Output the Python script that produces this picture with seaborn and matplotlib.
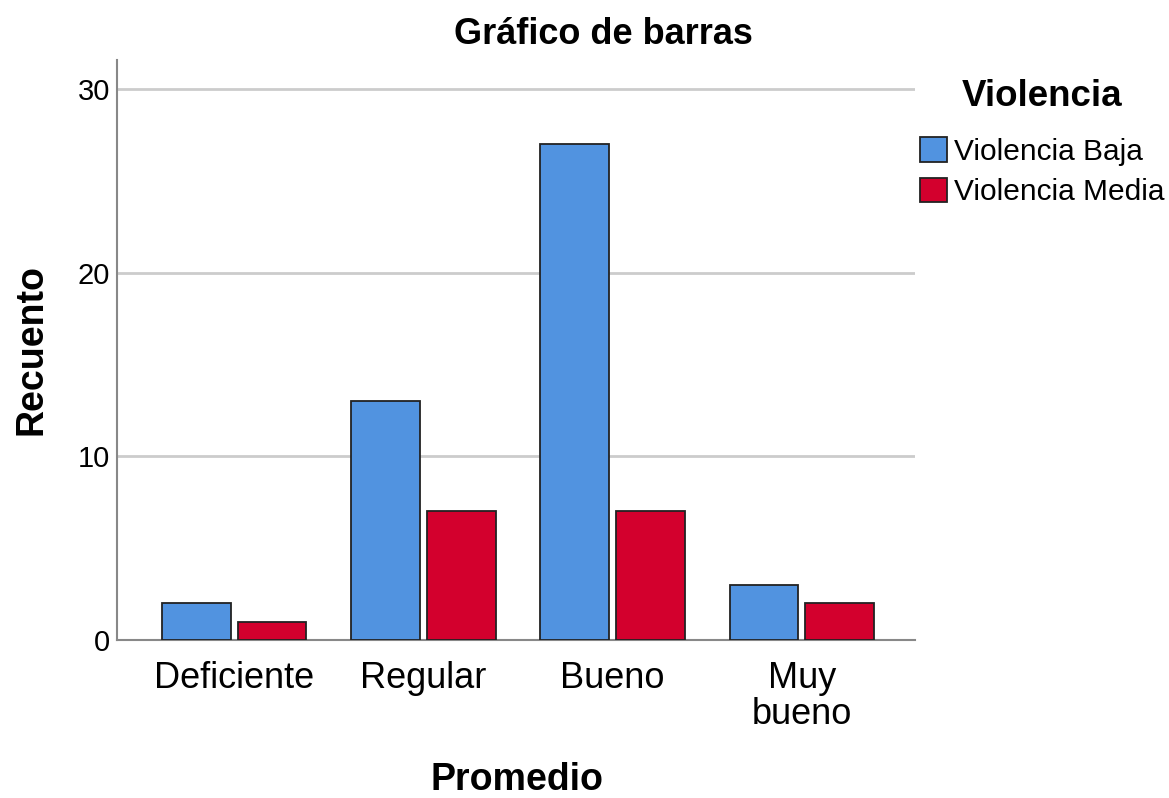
import pandas as pd
import matplotlib
matplotlib.use("Agg")
import matplotlib.pyplot as plt
import seaborn as sns

categories = ["Deficiente", "Regular", "Bueno", "Muy\nbueno"]
baja = [2, 13, 27, 3]
media = [1, 7, 7, 2]
series = ["Violencia Baja", "Violencia Media"]
colors = ["#5193E0", "#D3002D"]

data = pd.DataFrame({
    "Promedio": categories * 2,
    "Violencia": [series[0]] * 4 + [series[1]] * 4,
    "Recuento": baja + media,
})

sns.set_style("white")
plt.rcParams["font.family"] = ["Liberation Sans", "DejaVu Sans"]
plt.rcParams["text.color"] = "black"
plt.rcParams["axes.labelcolor"] = "black"
plt.rcParams["xtick.color"] = "black"
plt.rcParams["ytick.color"] = "black"

fig = plt.figure(figsize=(11.69, 7.98), dpi=100)
ax = fig.add_axes([0.100, 0.198, 0.683, 0.727])

sns.barplot(data=data, x="Promedio", y="Recuento", hue="Violencia",
            order=categories, hue_order=series, palette=colors,
            width=0.8, gap=0.09, edgecolor="#222222", linewidth=1.3,
            saturation=1, ax=ax, zorder=3)

ax.set_xlim(-0.62, 3.6)
ax.set_ylim(0, 31.6)
ax.set_yticks([0, 10, 20, 30])
ax.grid(axis="y", color="#cccccc", linewidth=2, zorder=0)
ax.set_axisbelow(True)
for s in ["top", "right"]:
    ax.spines[s].set_visible(False)
for s in ["left", "bottom"]:
    ax.spines[s].set_color("#888888")
    ax.spines[s].set_linewidth(1.5)
ax.tick_params(axis="y", length=0, labelsize=21, pad=5)
ax.tick_params(axis="x", length=0, labelsize=26, pad=15)
for t in ax.get_xticklabels():
    t.set_linespacing(1.05)

fig.text(0.516, 0.957, "Gráfico de barras", fontsize=26, fontweight="bold",
         ha="center", va="center")
ax.set_xlabel("")
fig.text(0.442, 1 - 780 / 798, "Promedio", fontsize=27, fontweight="bold",
         ha="center", va="center")
ax.set_ylabel("Recuento", fontsize=27, fontweight="bold", labelpad=20)

# legend: title drawn separately so the gap matches
fig.text(1042 / 1169, 1 - 97 / 798, "Violencia", fontsize=26.5, fontweight="bold",
         ha="center", va="center")
ax.legend(loc="upper left", bbox_to_anchor=(920 / 1169, 1 - 137 / 798),
          bbox_transform=fig.transFigure,
          frameon=False, fontsize=21.5,
          handlelength=0.9, handleheight=0.9, handletextpad=0.25, labelspacing=0.4,
          borderaxespad=0.0, borderpad=0.0)

plt.savefig("out.png", dpi=100)
